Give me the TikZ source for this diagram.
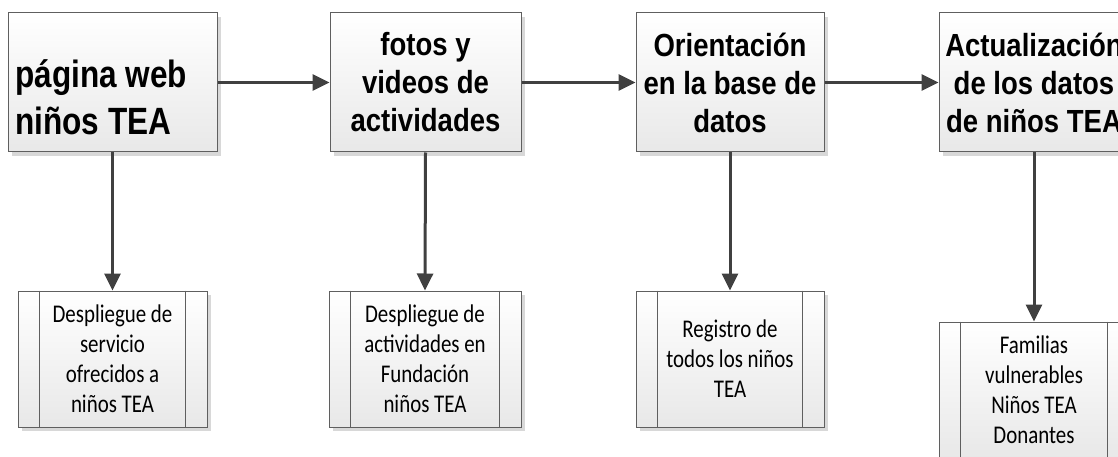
\documentclass[tikz,border=0pt]{standalone}
\usepackage{fontspec}
\usetikzlibrary{arrows.meta,shadows}
\newfontfamily\hdfont[FakeStretch=0.86]{Liberation Sans}
\newfontfamily\hdbigfont[FakeStretch=0.83]{Liberation Sans}
\newfontfamily\bdfont[FakeStretch=0.82]{Carlito}
\definecolor{edgegray}{HTML}{5F5F5F}
\definecolor{arrgray}{HTML}{404040}
\definecolor{shadgray}{HTML}{D8D8D8}
\tikzset{
  boxbase/.style={draw=edgegray, line width=1pt, top color=white, bottom color=black!9,
    drop shadow={shadow xshift=4pt, shadow yshift=-4pt, fill=shadgray, opacity=1},
    inner sep=0pt, align=center},
  topbox/.style={boxbase, minimum height=139pt,
    font={\hdfont\bfseries\fontsize{32pt}{38pt}\selectfont}},
  procbox/.style={boxbase, minimum height=136pt,
    font={\bdfont\fontsize{25.5pt}{30pt}\selectfont}},
  flowarrow/.style={draw=arrgray, line width=3pt, -{Triangle[length=17pt,width=16pt]}},
  barline/.style={draw=edgegray, line width=1pt}
}
\begin{document}
\begin{tikzpicture}[x=1pt,y=-1pt]
\useasboundingbox (0,0) rectangle (1118,457);
\clip (0,0) rectangle (1118,457);
% top boxes
\node[topbox, minimum width=209pt] (b1) at (112.5,82.5) {};
\node[anchor=south west, inner sep=0pt, align=left,
  font={\hdbigfont\bfseries\fontsize{38pt}{47pt}\selectfont}] (b1t) at (15,135) {página web\\niños TEA};
\node[topbox, minimum width=191pt] (b2) at (425.5,82.5) {fotos y\\videos de\\actividades};
\node[topbox, minimum width=188pt] (b3) at (730,82.5) {Orientación\\en la base de\\datos};
\node[topbox, minimum width=190pt] (b4) at (1034,82.5) {Actualización\\de los datos\\de niños TEA};
% bottom boxes
\node[procbox, minimum width=189pt] (d1) at (112.5,359) {Despliegue de\\servicio\\ofrecidos a\\niños TEA};
\node[procbox, minimum width=192pt] (d2) at (425,359) {Despliegue de\\actividades en\\Fundación\\niños TEA};
\node[procbox, minimum width=188pt] (d3) at (730,359) {Registro de\\todos los niños\\TEA};
\node[procbox, minimum width=190pt] (d4) at (1034,390) {Familias\\vulnerables\\Niños TEA\\Donantes};
\foreach \n in {d1,d2,d3,d4}{
  \draw[barline] ([xshift=22pt]\n.north west) -- ([xshift=22pt]\n.south west);
  \draw[barline] ([xshift=-22pt]\n.north east) -- ([xshift=-22pt]\n.south east);
}
% connectors
\draw[flowarrow] (b1) -- (b2);
\draw[flowarrow] (b2) -- (b3);
\draw[flowarrow] (b3) -- (b4);
\draw[flowarrow] (b1.south) -- (d1.north);
\draw[flowarrow] (b2.south) -- (d2.north);
\draw[flowarrow] (b3.south) -- (d3.north);
\draw[flowarrow] (b4.south) -- (d4.north);
\end{tikzpicture}
\end{document}
